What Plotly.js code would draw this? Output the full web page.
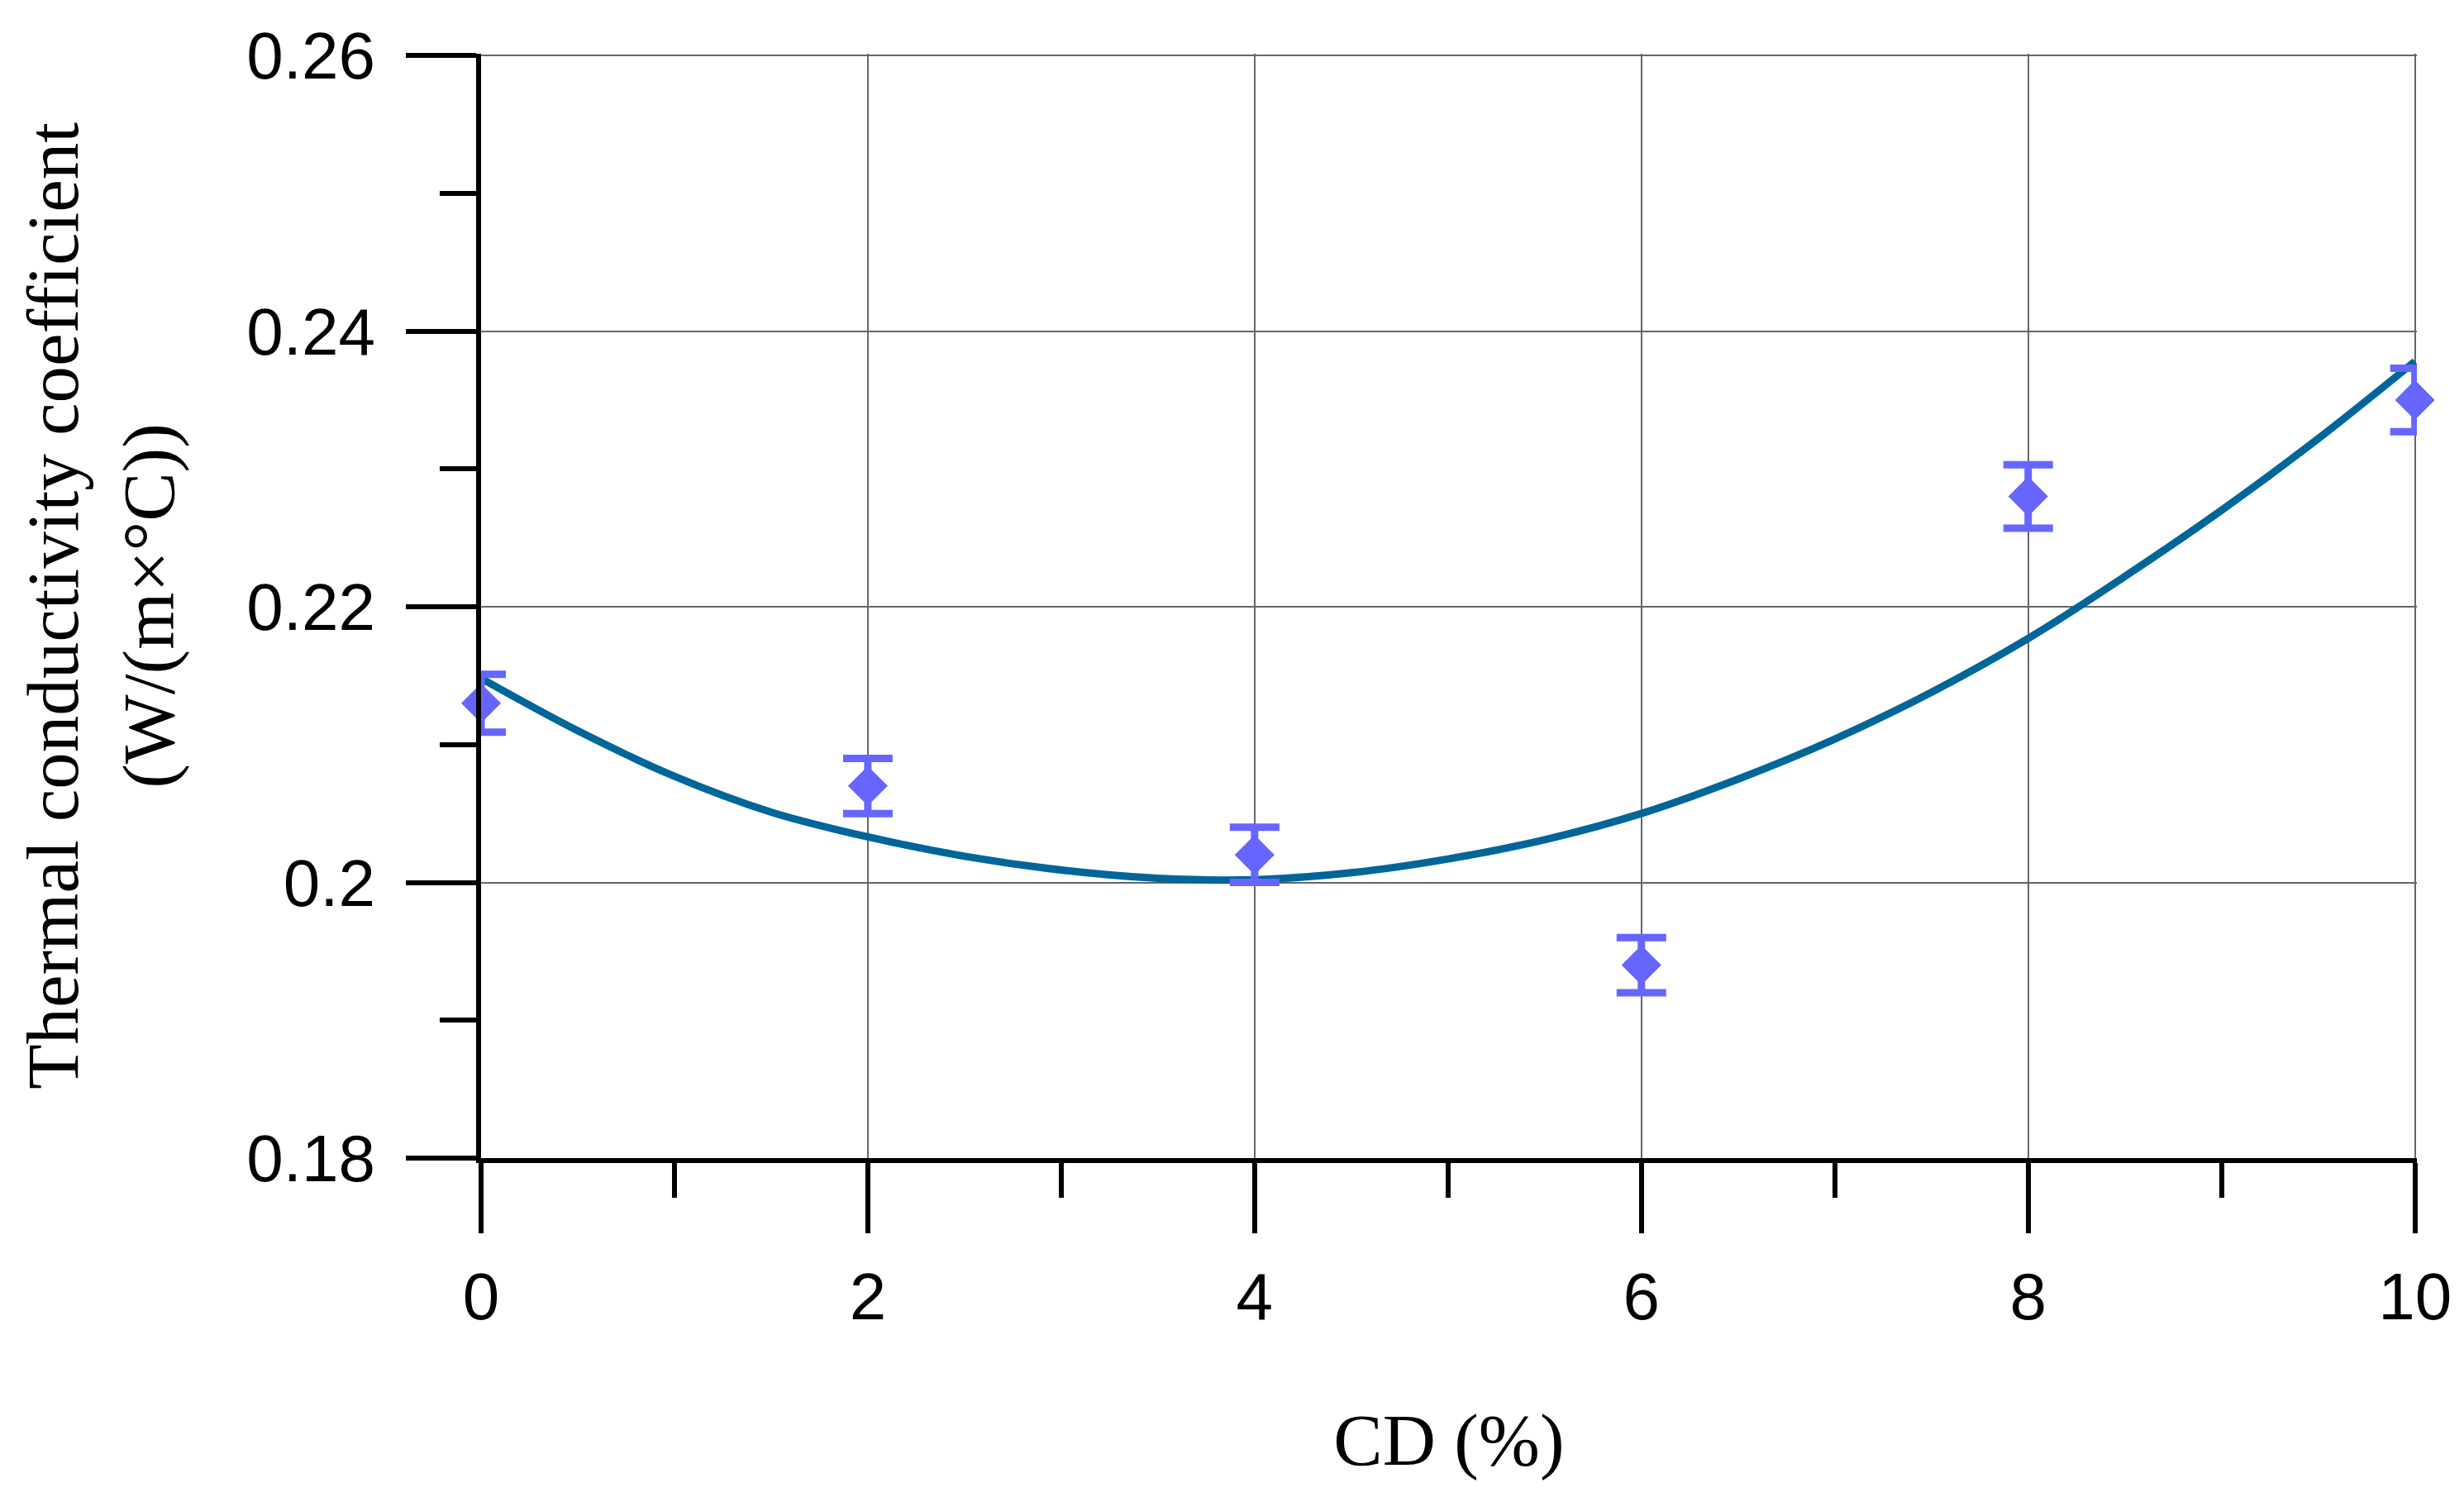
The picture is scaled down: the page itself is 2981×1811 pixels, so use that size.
<!DOCTYPE html>
<html>
<head>
<meta charset="utf-8">
<script src="https://cdn.plot.ly/plotly-3.0.1.min.js"></script>
<style>html,body{margin:0;padding:0;background:#fff;}#chart{width:2981px;height:1811px;}</style>
</head>
<body>
<div id="chart"></div>
<script>
// Measured points
const cd = [0, 2, 4, 6, 8, 10];
const conductivity = [0.213, 0.207, 0.202, 0.194, 0.228, 0.235];
const errors = [0.0021, 0.0020, 0.0020, 0.0020, 0.0023, 0.0023];

// Fitted trend curve
const fitX = [0, 0.5, 1, 1.5, 2, 2.5, 3, 3.5, 4, 4.5, 5, 5.5, 6, 6.5, 7, 7.5, 8, 8.5, 9, 9.5, 10];
const fitY = [0.2148, 0.2110, 0.2077, 0.2051, 0.2033, 0.2019, 0.2009, 0.2003, 0.2002, 0.2007, 0.2017,
              0.2031, 0.2050, 0.2075, 0.2104, 0.2138, 0.2177, 0.2222, 0.2270, 0.2322, 0.2378];

const xTicks = [0, 2, 4, 6, 8, 10];
const yTicks = [0.18, 0.2, 0.22, 0.24, 0.26];
const yTickText = ['0.18', '0.2', '0.22', '0.24', '0.26'];

const traces = [
  {
    x: fitX, y: fitY, type: 'scatter', mode: 'lines',
    line: {color: '#006699', width: 9, shape: 'spline', smoothing: 1.0},
    cliponaxis: false, hoverinfo: 'skip', showlegend: false
  },
  {
    x: cd, y: conductivity, type: 'scatter', mode: 'markers',
    marker: {symbol: 'diamond', size: 37, color: '#6666FF'},
    error_y: {type: 'data', array: errors, visible: true, color: '#6666FF', thickness: 9, width: 30},
    cliponaxis: false, showlegend: false
  }
];

const tickFont = {family: '"Liberation Sans", Arial, sans-serif', size: 80, color: '#000'};
const titleFont = {family: '"Liberation Serif", "Times New Roman", serif', size: 89, color: '#000'};

const layout = {
  width: 2981, height: 1811,
  margin: {l: 582, r: 57, t: 65, b: 410},
  paper_bgcolor: '#fff', plot_bgcolor: '#fff',
  showlegend: false,
  xaxis: {
    range: [0, 10.01],
    tickvals: xTicks, ticktext: xTicks.map(String),
    showgrid: true, gridcolor: '#666666', gridwidth: 2,
    zeroline: false,
    showline: true, linecolor: '#000', linewidth: 6,
    ticks: 'outside', ticklen: 85, tickwidth: 6, tickcolor: '#000',
    minor: {dtick: 1, tick0: 1, ticks: 'outside', ticklen: 42, tickwidth: 6, tickcolor: '#000', showgrid: false},
    tickfont: tickFont, ticklabelstandoff: 8,
    title: {text: 'CD (%)', font: titleFont, standoff: 100},
    automargin: false
  },
  yaxis: {
    range: [0.18, 0.26012],
    tickvals: yTicks, ticktext: yTickText,
    showgrid: true, gridcolor: '#666666', gridwidth: 2,
    zeroline: false,
    showline: true, linecolor: '#000', linewidth: 6,
    ticks: 'outside', ticklen: 85, tickwidth: 6, tickcolor: '#000',
    minor: {dtick: 0.01, tick0: 0.19, ticks: 'outside', ticklen: 44, tickwidth: 6, tickcolor: '#000', showgrid: false},
    tickfont: tickFont, ticklabelstandoff: 21,
    title: {text: 'Thermal conductivity coefficient<br>(W/(m×°C))', font: titleFont, standoff: 60},
    automargin: false
  }
};

Plotly.newPlot('chart', traces, layout, {displayModeBar: false, staticPlot: true});
</script>
</body>
</html>
